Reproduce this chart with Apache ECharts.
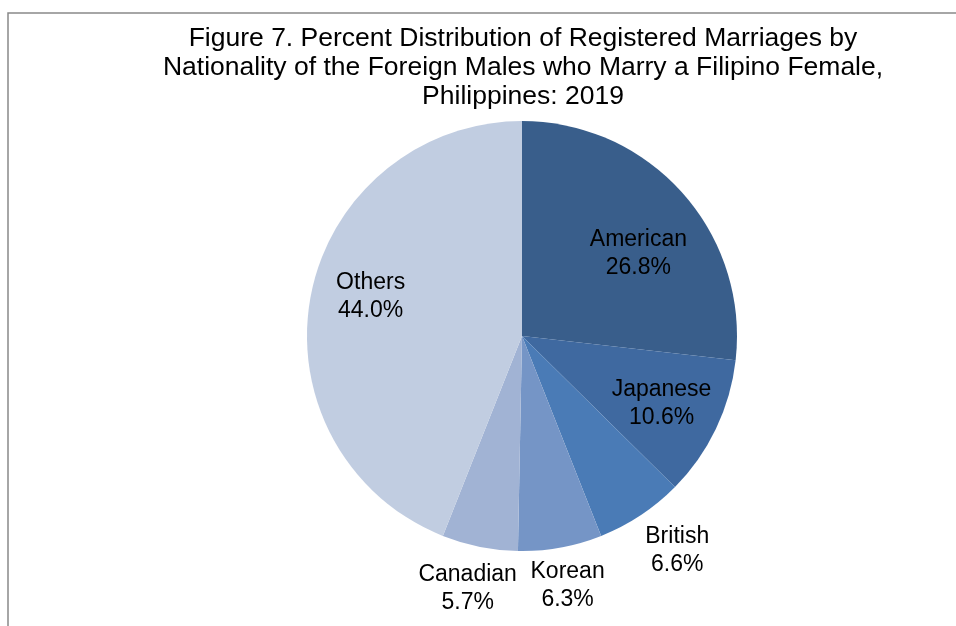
<!DOCTYPE html>
<html>
<head>
<meta charset="utf-8">
<script src="https://cdn.jsdelivr.net/npm/echarts@6/dist/echarts.min.js"></script>
<style>
html,body{margin:0;padding:0;background:#fff;}
#c{width:956px;height:626px;}
</style>
</head>
<body>
<div id="c"></div>
<script>
const titleLines = [
  "Figure 7. Percent Distribution of Registered Marriages by",
  "Nationality of the Foreign Males who Marry a Filipino Female,",
  "Philippines: 2019"
];
const categories = ["American", "Japanese", "British", "Korean", "Canadian", "Others"];
const percents = [26.8, 10.6, 6.6, 6.3, 5.7, 44.0];
const colors = ["#395E8B", "#3F69A0", "#4A7BB6", "#7595C6", "#A1B3D4", "#C1CDE1"];
const innerLabelled = ["American", "Japanese", "Others"];
const labelOffsets = { American: [6, 16], Japanese: [6, 4], Others: [-6, -12], British: [14, 1], Korean: [0, -2], Canadian: [-4, 2] };

const chart = echarts.init(document.getElementById('c'), null, { renderer: 'canvas' });

const center = ['522', '336'];
const labelFont = { fontFamily: 'Liberation Sans, Arial, sans-serif', fontSize: 23, lineHeight: 28, color: '#000' };

function labelFmt(p) { return p.name + '\n' + percents[p.dataIndex].toFixed(1) + '%'; }

const mainData = categories.map((c, i) => ({ name: c, value: percents[i], itemStyle: { color: colors[i] } }));

function labelData(inner) {
  return categories.map((c, i) => {
    const show = inner ? innerLabelled.includes(c) : !innerLabelled.includes(c);
    return {
      name: c, value: percents[i],
      itemStyle: { color: 'rgba(0,0,0,0)' },
      label: { show: show, offset: labelOffsets[c] }
    };
  });
}

chart.setOption({
  backgroundColor: '#fff',
  animation: false,
  title: {
    text: titleLines.join('\n'),
    left: 518, textAlign: 'center', top: 19,
    textStyle: { fontFamily: 'Liberation Sans, Arial, sans-serif', fontSize: 26.5, lineHeight: 29, fontWeight: 'normal', color: '#000' }
  },
  graphic: [{
    type: 'polyline',
    shape: { points: [[8, 700], [8, 13], [1000, 13]] },
    style: { stroke: '#898989', lineWidth: 1.5, fill: null },
    silent: true
  }],
  series: [
    {
      type: 'pie', center: center, radius: 215, startAngle: 90, clockwise: true,
      data: mainData, label: { show: false }, labelLine: { show: false },
      itemStyle: { borderWidth: 0 }, silent: true
    },
    {
      type: 'pie', center: center, radius: 290, startAngle: 90, clockwise: true,
      data: labelData(true),
      label: Object.assign({ position: 'inside', formatter: labelFmt, align: 'center' }, labelFont),
      labelLine: { show: false }, silent: true, z: 3
    },
    {
      type: 'pie', center: center, radius: 506, startAngle: 90, clockwise: true,
      data: labelData(false),
      label: Object.assign({ position: 'inside', formatter: labelFmt, align: 'center' }, labelFont),
      labelLine: { show: false }, silent: true, z: 3
    }
  ]
});
</script>
</body>
</html>
